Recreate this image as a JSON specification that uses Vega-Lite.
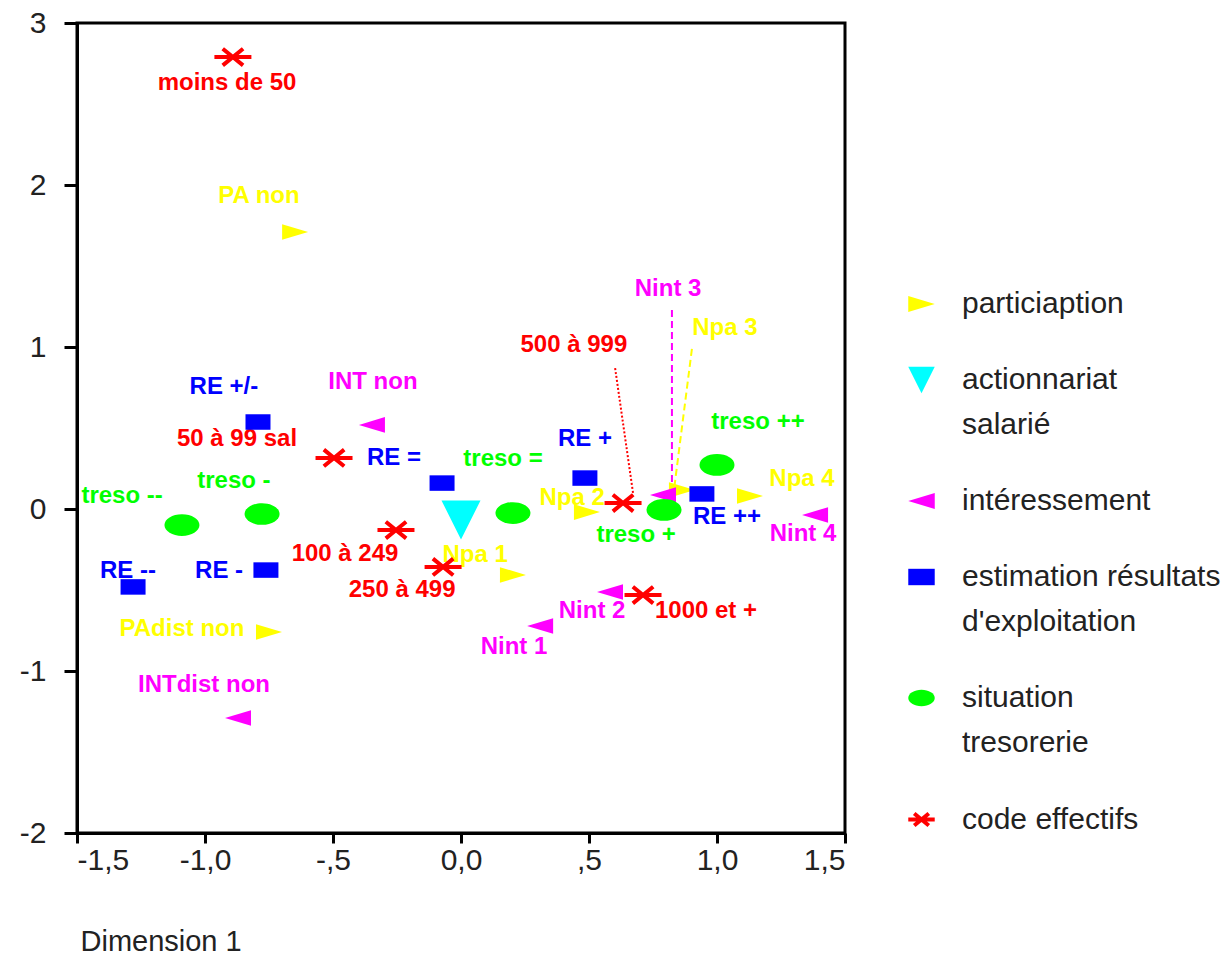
{
  "$schema": "https://vega.github.io/schema/vega-lite/v6.json",
  "autosize": {"type": "none"},
  "width": 768,
  "height": 810,
  "padding": {"left": 77, "top": 23, "right": 385, "bottom": 122},
  "background": "white",
  "datasets": {
    "pts": [
      {"cat": "particiaption", "label": "PA non", "x": -0.648, "y": 1.71, "lx": -0.789, "ly": 1.932},
      {"cat": "particiaption", "label": "PAdist non", "x": -0.75, "y": -0.759, "lx": -1.09, "ly": -0.741},
      {"cat": "particiaption", "label": "Npa 1", "x": 0.203, "y": -0.407, "lx": 0.055, "ly": -0.284},
      {"cat": "particiaption", "label": "Npa 2", "x": 0.492, "y": -0.019, "lx": 0.434, "ly": 0.068},
      {"cat": "particiaption", "label": "Npa 3", "x": 0.863, "y": 0.117, "lx": 1.031, "ly": 1.117},
      {"cat": "particiaption", "label": "Npa 4", "x": 1.129, "y": 0.08, "lx": 1.332, "ly": 0.185},
      {"cat": "actionnariat salarié", "label": "", "x": 0.0, "y": -0.068, "lx": 0.0, "ly": -0.068},
      {"cat": "intéressement", "label": "INT non", "x": -0.348, "y": 0.519, "lx": -0.344, "ly": 0.784},
      {"cat": "intéressement", "label": "INTdist non", "x": -0.871, "y": -1.29, "lx": -1.004, "ly": -1.086},
      {"cat": "intéressement", "label": "Nint 1", "x": 0.309, "y": -0.722, "lx": 0.207, "ly": -0.852},
      {"cat": "intéressement", "label": "Nint 2", "x": 0.582, "y": -0.512, "lx": 0.512, "ly": -0.63},
      {"cat": "intéressement", "label": "Nint 3", "x": 0.789, "y": 0.086, "lx": 0.809, "ly": 1.358},
      {"cat": "intéressement", "label": "Nint 4", "x": 1.383, "y": -0.037, "lx": 1.336, "ly": -0.154},
      {"cat": "estimation résultats d'exploitation", "label": "RE +/-", "x": -0.793, "y": 0.537, "lx": -0.926, "ly": 0.753},
      {"cat": "estimation résultats d'exploitation", "label": "RE =", "x": -0.074, "y": 0.16, "lx": -0.262, "ly": 0.315},
      {"cat": "estimation résultats d'exploitation", "label": "RE +", "x": 0.484, "y": 0.191, "lx": 0.484, "ly": 0.432},
      {"cat": "estimation résultats d'exploitation", "label": "RE ++", "x": 0.941, "y": 0.093, "lx": 1.039, "ly": -0.049},
      {"cat": "estimation résultats d'exploitation", "label": "RE -", "x": -0.762, "y": -0.377, "lx": -0.945, "ly": -0.383},
      {"cat": "estimation résultats d'exploitation", "label": "RE --", "x": -1.281, "y": -0.481, "lx": -1.301, "ly": -0.383},
      {"cat": "situation tresorerie", "label": "treso --", "x": -1.09, "y": -0.099, "lx": -1.324, "ly": 0.08},
      {"cat": "situation tresorerie", "label": "treso -", "x": -0.777, "y": -0.031, "lx": -0.887, "ly": 0.173},
      {"cat": "situation tresorerie", "label": "treso =", "x": 0.203, "y": -0.025, "lx": 0.164, "ly": 0.309},
      {"cat": "situation tresorerie", "label": "treso +", "x": 0.793, "y": -0.006, "lx": 0.684, "ly": -0.16},
      {"cat": "situation tresorerie", "label": "treso ++", "x": 1.0, "y": 0.272, "lx": 1.16, "ly": 0.537},
      {"cat": "code effectifs", "label": "moins de 50", "x": -0.891, "y": 2.79, "lx": -0.914, "ly": 2.63},
      {"cat": "code effectifs", "label": "50 à 99 sal", "x": -0.496, "y": 0.315, "lx": -0.875, "ly": 0.432},
      {"cat": "code effectifs", "label": "100 à 249", "x": -0.254, "y": -0.13, "lx": -0.453, "ly": -0.278},
      {"cat": "code effectifs", "label": "250 à 499", "x": -0.07, "y": -0.358, "lx": -0.23, "ly": -0.5},
      {"cat": "code effectifs", "label": "500 à 999", "x": 0.633, "y": 0.037, "lx": 0.441, "ly": 1.012},
      {"cat": "code effectifs", "label": "1000 et +", "x": 0.711, "y": -0.531, "lx": 0.957, "ly": -0.63}
    ],
    "leaders": [
      {"cat": "code effectifs", "x": 0.602, "y": 0.87, "x2": 0.672, "y2": 0.099},
      {"cat": "intéressement", "x": 0.824, "y": 1.228, "x2": 0.824, "y2": 0.099},
      {"cat": "particiaption", "x": 0.902, "y": 0.988, "x2": 0.828, "y2": 0.068}
    ]
  },
  "resolve": {"legend": {"color": "independent", "shape": "independent", "stroke": "independent", "strokeWidth": "independent", "size": "independent", "strokeDash": "independent"}},
  "layer": [
    {
      "mark": {"type": "rule", "color": "black", "strokeWidth": 3},
      "encoding": {"x": {"datum": 0, "type": "quantitative", "scale": {"domain": [-1.5, 1.5], "nice": false, "zero": false}}}
    },
    {
      "mark": {"type": "rule", "color": "black", "strokeWidth": 3},
      "encoding": {"y": {"datum": 0, "type": "quantitative", "scale": {"domain": [-2, 3], "nice": false, "zero": false}}}
    },
    {
      "data": {"name": "leaders"},
      "mark": {"type": "rule", "strokeWidth": 2},
      "encoding": {
        "x": {"field": "x", "type": "quantitative"},
        "y": {"field": "y", "type": "quantitative"},
        "x2": {"field": "x2"},
        "y2": {"field": "y2"},
        "color": {"field": "cat", "type": "nominal", "legend": null},
        "strokeDash": {"field": "cat", "type": "nominal", "legend": null,
          "scale": {"type": "ordinal", "domain": ["code effectifs", "intéressement", "particiaption"], "range": [[2, 2], [7, 4], [7, 4]]}}
      }
    },
    {
      "data": {"name": "pts"},
      "mark": {"type": "text", "fontSize": 24, "fontWeight": "bold", "font": "Liberation Sans", "align": "center", "baseline": "middle"},
      "encoding": {
        "x": {"field": "lx", "type": "quantitative"},
        "y": {"field": "ly", "type": "quantitative"},
        "text": {"field": "label"},
        "color": {"field": "cat", "type": "nominal", "legend": null}
      }
    },
    {
      "data": {"name": "pts"},
      "mark": {"type": "point", "filled": true, "opacity": 1},
      "encoding": {
        "x": {"field": "x", "type": "quantitative"},
        "y": {"field": "y", "type": "quantitative"},
        "shape": {"field": "cat", "type": "nominal",
          "scale": {"domain": ["particiaption", "actionnariat salarié", "intéressement", "estimation résultats d'exploitation", "situation tresorerie", "code effectifs"],
            "range": ["M-1,-0.6L1,0L-1,0.6Z", "M-1,-1L1,-1L0,1Z", "M1,-0.6L-1,0L1,0.6Z", "M-1,-0.62H1V0.62H-1Z", "M-1,0A1,0.62,0,1,1,1,0A1,0.62,0,1,1,-1,0Z", "M-1,0H1M-0.55,-0.45L0.55,0.45M0.55,-0.45L-0.55,0.45"]},
          "legend": {
            "orient": "none", "legendX": 829, "legendY": 266, "title": null,
            "labelExpr": "datum.label == 'actionnariat salarié' ? ['actionnariat', 'salarié'] : datum.label == \"estimation résultats d'exploitation\" ? ['estimation résultats', \"d'exploitation\"] : datum.label == 'situation tresorerie' ? ['situation', 'tresorerie'] : datum.label",
            "encoding": {"labels": {"lineHeight": {"value": 45}}}
          }
        },
        "color": {"field": "cat", "type": "nominal",
          "scale": {"domain": ["particiaption", "actionnariat salarié", "intéressement", "estimation résultats d'exploitation", "situation tresorerie", "code effectifs"],
            "range": ["#FFFF00", "#00FFFF", "#FF00FF", "#0000FF", "#00FF00", "#FF0000"]},
          "legend": {
            "orient": "none", "legendX": 829, "legendY": 266, "title": null,
            "labelExpr": "datum.label == 'actionnariat salarié' ? ['actionnariat', 'salarié'] : datum.label == \"estimation résultats d'exploitation\" ? ['estimation résultats', \"d'exploitation\"] : datum.label == 'situation tresorerie' ? ['situation', 'tresorerie'] : datum.label",
            "encoding": {"labels": {"lineHeight": {"value": 45}}}
          }
        },
        "stroke": {"field": "cat", "type": "nominal",
          "scale": {"domain": ["particiaption", "actionnariat salarié", "intéressement", "estimation résultats d'exploitation", "situation tresorerie", "code effectifs"],
            "range": ["#FFFF00", "#00FFFF", "#FF00FF", "#0000FF", "#00FF00", "#FF0000"]}
        },
        "strokeWidth": {"field": "cat", "type": "nominal",
          "scale": {"type": "ordinal", "domain": ["particiaption", "actionnariat salarié", "intéressement", "estimation résultats d'exploitation", "situation tresorerie", "code effectifs"],
            "range": [0, 0, 0, 0, 0, 4]}},
        "size": {"field": "cat", "type": "nominal", "legend": null,
          "scale": {"type": "ordinal", "domain": ["code effectifs", "situation tresorerie", "estimation résultats d'exploitation", "intéressement", "actionnariat salarié", "particiaption"],
            "range": [1369, 1225, 625, 676, 1521, 676]}}
      }
    }
  ],
  "encoding": {
    "x": {"type": "quantitative",
      "axis": {
        "values": [-1.5, -1, -0.5, 0, 0.5, 1, 1.5],
        "labelExpr": "datum.value == -1.5 ? '-1,5' : datum.value == -1 ? '-1,0' : datum.value == -0.5 ? '-,5' : datum.value == 0 ? '0,0' : datum.value == 0.5 ? ',5' : datum.value == 1 ? '1,0' : '1,5'",
        "title": "Dimension 1", "titleX": 3, "titleY": 108, "titleAlign": "left", "titleBaseline": "middle",
        "tickSize": 10, "labelPadding": 2
      }
    },
    "y": {"type": "quantitative",
      "axis": {
        "values": [-2, -1, 0, 1, 2, 3],
        "labelExpr": "datum.value < 0 ? '-' + abs(datum.value) : '' + datum.value",
        "title": null, "tickSize": 13, "labelPadding": 18
      }
    }
  },
  "config": {
    "view": {"stroke": "black", "strokeWidth": 3},
    "axis": {
      "grid": false, "domainColor": "black", "domainWidth": 3, "tickColor": "black", "tickWidth": 3,
      "labelFont": "Liberation Sans", "labelFontSize": 30, "labelColor": "#222222",
      "titleFont": "Liberation Sans", "titleFontSize": 29, "titleFontWeight": "normal", "titleColor": "#222222"
    },
    "legend": {
      "padding": 0,
      "labelFont": "Liberation Sans", "labelFontSize": 30, "labelColor": "#222222", "labelLimit": 600,
      "labelBaseline": "middle", "labelOffset": 25, "symbolSize": 700, "symbolStrokeWidth": 3,
      "rowPadding": 46, "symbolOpacity": 1
    }
  }
}
